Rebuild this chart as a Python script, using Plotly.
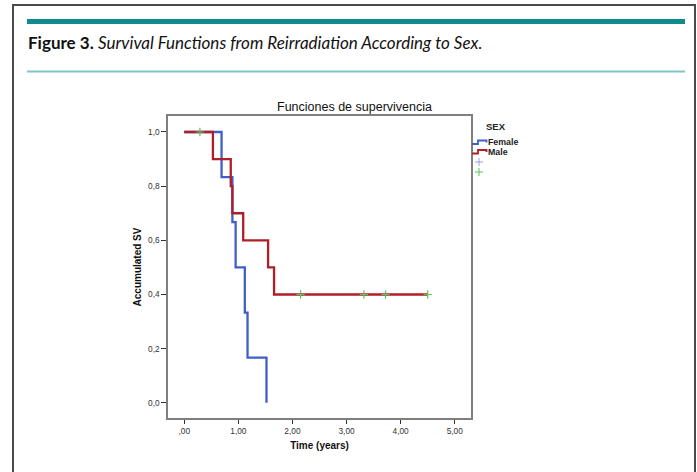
import plotly.graph_objects as go

# ---- data ----
female_t = [0.0, 0.69, 0.89, 0.95, 1.12, 1.17, 1.52]
female_s = [1.0, 0.833, 0.667, 0.5, 0.333, 0.167, 0.0]
male_t = [0.0, 0.53, 0.86, 0.89, 1.09, 1.55, 1.66, 4.5]
male_s = [1.0, 0.9, 0.8, 0.7, 0.6, 0.5, 0.4, 0.4]
male_cens_t = [0.29, 2.15, 3.32, 3.72, 4.5]
male_cens_s = [1.0, 0.4, 0.4, 0.4, 0.4]
x_ticks = [0, 1, 2, 3, 4, 5]
x_labels = [",00", "1,00", "2,00", "3,00", "4,00", "5,00"]
y_ticks = [0.0, 0.2, 0.4, 0.6, 0.8, 1.0]
y_labels = ["0,0", "0,2", "0,4", "0,6", "0,8", "1,0"]
legend_title = "SEX"
legend_names = ["Female", "Male"]

BLUE = "#3f5fc8"
RED = "#b01e28"
GREEN = "#5cc25c"
LBLUE = "#8ea2e2"

W, H = 697, 472
L, R, T, B = 168, 471, 116, 418
AF = "Liberation Sans, Arial, sans-serif"


def px(xp):
    return (xp - L) / (R - L)


def py(yp):
    return (B - yp) / (B - T)


fig = go.Figure()
fig.add_trace(go.Scatter(x=female_t, y=female_s, mode="lines", line_shape="hv",
                         line=dict(color=BLUE, width=2.3), showlegend=False))
fig.add_trace(go.Scatter(x=male_t, y=male_s, mode="lines", line_shape="hv",
                         line=dict(color=RED, width=2.3), showlegend=False))
fig.add_trace(go.Scatter(x=male_cens_t, y=male_cens_s, mode="markers",
                         marker=dict(symbol="cross-thin", size=6,
                                     line=dict(color=GREEN, width=1.2)),
                         showlegend=False))

shapes = []
annotations = []

# page frame
shapes.append(dict(type="rect", xref="paper", yref="paper",
                   x0=px(13), x1=px(695), y0=py(480), y1=py(5),
                   line=dict(color="#4a4a4a", width=2), layer="below"))
# teal bars
shapes.append(dict(type="line", xref="paper", yref="paper",
                   x0=px(27), x1=px(685), y0=py(21.5), y1=py(21.5),
                   line=dict(color="#0f8a8e", width=5)))
shapes.append(dict(type="line", xref="paper", yref="paper",
                   x0=px(27), x1=px(685), y0=py(71.5), y1=py(71.5),
                   line=dict(color="#7fc6c8", width=2)))

# caption
annotations.append(dict(
    xref="paper", yref="paper", x=px(26), y=py(42), xanchor="left", yanchor="middle",
    showarrow=False,
    text="<b>Figure 3.</b> <i>Survival Functions from Reirradiation According to Sex.</i>",
    font=dict(family="Lato, sans-serif", size=17, color="#111")))

# chart title
annotations.append(dict(
    xref="paper", yref="paper", x=px(354), y=py(107), xanchor="center", yanchor="middle",
    showarrow=False, text="Funciones de supervivencia",
    font=dict(family=AF, size=12.5, color="#111")))

# legend
annotations.append(dict(
    xref="paper", yref="paper", x=px(496), y=py(127), xanchor="center", yanchor="middle",
    showarrow=False, text="<b>" + legend_title + "</b>",
    font=dict(family=AF, size=9.5, color="#222")))
for i, (name, col) in enumerate(zip(legend_names, [BLUE, RED])):
    yb = 144 + i * 9.5
    path = "M {} {} L {} {} L {} {} L {} {} L {} {}".format(
        px(472), py(yb), px(478), py(yb), px(478), py(yb - 3.5),
        px(486.5), py(yb - 3.5), px(486.5), py(yb - 1.5))
    shapes.append(dict(type="path", xref="paper", yref="paper", path=path,
                       line=dict(color=col, width=1.8)))
    annotations.append(dict(
        xref="paper", yref="paper", x=px(486.5), y=py(yb - 1.8), xanchor="left",
        yanchor="middle", showarrow=False, text="<b>" + name + "</b>",
        font=dict(family=AF, size=8.8, color="#222")))
for yc, col in [(162, LBLUE), (172, GREEN)]:
    shapes.append(dict(type="line", xref="paper", yref="paper",
                       x0=px(475), x1=px(483), y0=py(yc), y1=py(yc),
                       line=dict(color=col, width=1)))
    shapes.append(dict(type="line", xref="paper", yref="paper",
                       x0=px(479), x1=px(479), y0=py(yc - 4), y1=py(yc + 4),
                       line=dict(color=col, width=1)))

fig.update_layout(
    width=W, height=H,
    margin=dict(l=L, r=W - R, t=T, b=H - B, pad=0),
    paper_bgcolor="white", plot_bgcolor="white",
    shapes=shapes, annotations=annotations,
    showlegend=False,
    xaxis=dict(range=[-0.3, 5.3], tickvals=x_ticks, ticktext=x_labels,
               showgrid=False, zeroline=False, showline=True, mirror=True,
               linecolor="#7f7f7f", linewidth=1.5, ticks="outside", ticklen=4,
               tickcolor="#333", tickwidth=1,
               tickfont=dict(family=AF, size=8.3, color="#333"),
               title=dict(text="<b>Time (years)</b>", standoff=7,
                          font=dict(family=AF, size=10, color="#111"))),
    yaxis=dict(range=[-0.056, 1.059], tickvals=y_ticks, ticktext=y_labels,
               showgrid=False, zeroline=False, showline=True, mirror=True,
               linecolor="#7f7f7f", linewidth=1.5, ticks="outside", ticklen=5,
               tickcolor="#333", tickwidth=1,
               tickfont=dict(family=AF, size=8.3, color="#333"),
               title=dict(text="<b>Accumulated SV</b>", standoff=5,
                          font=dict(family=AF, size=10, color="#111"))),
)

fig.write_html("out.html")
